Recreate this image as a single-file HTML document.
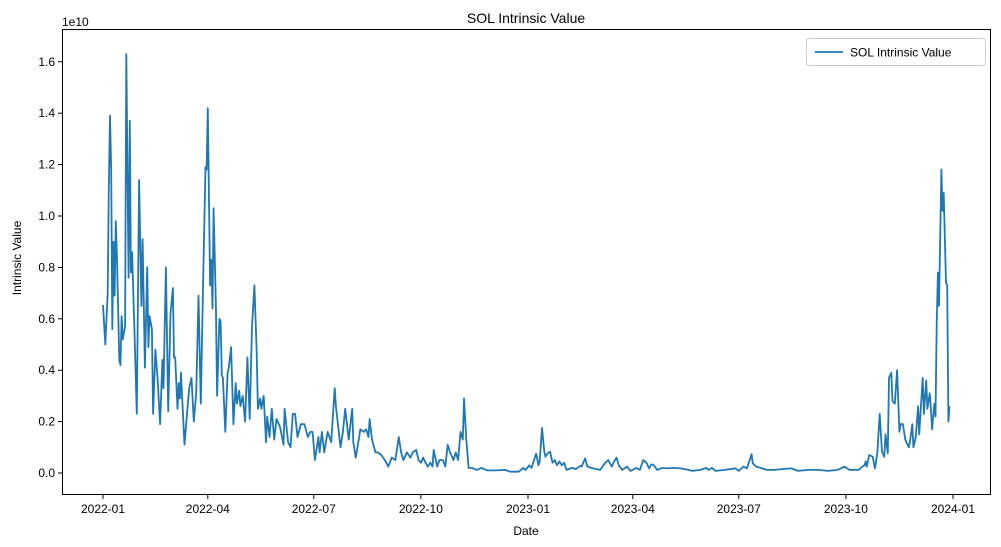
<!DOCTYPE html>
<html><head><meta charset="utf-8"><style>
html,body{margin:0;padding:0;background:#fff;}
svg{display:block;font-family:"Liberation Sans","DejaVu Sans",sans-serif;}
</style></head><body>
<svg id="chart" width="1001" height="547" viewBox="0 0 1001 547">
<text x="526" y="23" text-anchor="middle" font-size="14">SOL Intrinsic Value</text>
<text x="526" y="535" text-anchor="middle" font-size="12">Date</text>
<text x="21" y="258" text-anchor="middle" font-size="12" transform="rotate(-90 21 258)">Intrinsic Value</text>
<text x="62" y="26" font-size="12">1e10</text>
<g id="grid"></g>
<path id="line" fill="none" stroke="#1f77b4" stroke-width="1.8" stroke-linejoin="round"></path>
<rect x="62.5" y="29.5" width="928" height="465" fill="none" stroke="#000" stroke-width="1"></rect>
<g>
<rect x="806.5" y="38.5" width="179" height="27" rx="3" fill="#fff" stroke="#ccc"></rect>
<line x1="815" y1="52" x2="843" y2="52" stroke="#1f77b4" stroke-width="1.8"></line>
<text x="850" y="56.5" font-size="12">SOL Intrinsic Value</text>
</g>
</svg>
<script>
const days=[0,2,4,5,6,7,8,9,10,11,12,14,15,16,17,19,20,22,23,24,25,27,29,31,33,34,36,38,39,40,42,43,45,47,49,51,52,54,56,58,60,61,62,64,65,66,67,68,70,72,74,76,78,80,82,84,86,88,89,90,92,93,94,95,97,98,100,101,102,103,105,107,108,110,112,114,115,117,118,120,122,124,126,128,130,132,133,135,136,138,140,141,143,145,147,149,152,155,156,159,161,163,165,167,170,173,176,178,180,182,185,186,188,190,193,196,199,200,204,206,208,209,211,214,215,217,220,221,224,226,228,229,231,234,236,239,242,245,248,251,254,256,258,261,264,266,269,271,273,275,277,279,281,283,284,287,289,292,294,296,298,301,303,305,307,309,310,312,314,317,321,325,330,338,345,350,357,361,363,366,368,372,374,375,377,379,380,382,384,386,388,390,392,394,396,398,403,406,410,411,414,416,421,427,431,434,437,439,441,443,446,450,453,458,461,464,467,469,471,473,476,480,484,490,496,503,506,513,518,520,523,526,534,543,546,550,553,557,558,561,566,570,577,583,591,597,606,614,623,631,637,641,649,652,654,655,656,658,661,663,665,667,669,671,672,674,675,677,678,680,682,684,685,687,689,692,693,695,696,698,700,701,704,705,707,708,710,711,712,714,715,716,717,718,720,721,722,724,725,726,727];
const values=[0.654,0.50,0.70,1.11,1.39,1.18,0.56,0.90,0.69,0.98,0.83,0.44,0.42,0.61,0.52,0.57,1.63,0.76,1.37,0.78,0.86,0.56,0.23,1.14,0.65,0.91,0.41,0.80,0.49,0.61,0.56,0.23,0.48,0.36,0.19,0.44,0.33,0.80,0.24,0.62,0.72,0.45,0.45,0.25,0.35,0.29,0.39,0.29,0.11,0.22,0.33,0.37,0.20,0.31,0.69,0.27,0.74,1.19,1.18,1.42,0.73,0.83,0.64,1.03,0.65,0.30,0.60,0.59,0.38,0.37,0.16,0.39,0.41,0.49,0.19,0.35,0.27,0.32,0.26,0.30,0.20,0.45,0.21,0.57,0.73,0.47,0.25,0.29,0.25,0.30,0.12,0.22,0.14,0.25,0.13,0.21,0.18,0.11,0.25,0.12,0.10,0.23,0.23,0.14,0.19,0.19,0.14,0.16,0.16,0.05,0.14,0.08,0.16,0.08,0.16,0.12,0.33,0.26,0.10,0.16,0.25,0.21,0.13,0.25,0.12,0.06,0.14,0.17,0.16,0.17,0.14,0.21,0.13,0.08,0.08,0.07,0.05,0.025,0.06,0.05,0.14,0.08,0.05,0.08,0.06,0.08,0.09,0.05,0.04,0.06,0.04,0.025,0.04,0.025,0.09,0.025,0.05,0.05,0.025,0.11,0.08,0.05,0.08,0.05,0.16,0.13,0.29,0.13,0.02,0.02,0.012,0.02,0.01,0.01,0.012,0.005,0.005,0.02,0.012,0.03,0.02,0.075,0.03,0.045,0.175,0.083,0.063,0.077,0.083,0.04,0.05,0.03,0.045,0.03,0.04,0.012,0.02,0.015,0.028,0.025,0.057,0.025,0.018,0.012,0.038,0.05,0.025,0.045,0.06,0.03,0.012,0.025,0.008,0.02,0.012,0.05,0.038,0.018,0.034,0.03,0.012,0.02,0.018,0.02,0.018,0.012,0.008,0.012,0.02,0.012,0.02,0.008,0.012,0.018,0.008,0.025,0.018,0.073,0.038,0.025,0.018,0.012,0.012,0.015,0.018,0.008,0.012,0.012,0.008,0.012,0.025,0.012,0.012,0.025,0.03,0.045,0.025,0.07,0.063,0.018,0.077,0.23,0.083,0.063,0.15,0.077,0.37,0.39,0.28,0.27,0.40,0.16,0.19,0.19,0.13,0.10,0.12,0.19,0.10,0.14,0.26,0.15,0.37,0.23,0.36,0.25,0.31,0.25,0.17,0.27,0.22,0.58,0.78,0.65,1.18,1.02,1.09,0.74,0.73,0.20,0.26];
const xTickDays=[0,90,181,273,365,455,546,638,730];
const xTickLabels=["2022-01","2022-04","2022-07","2022-10","2023-01","2023-04","2023-07","2023-10","2024-01"];
const yTickValues=[0,0.2,0.4,0.6,0.8,1.0,1.2,1.4,1.6];
const yTickLabels=["0.0","0.2","0.4","0.6","0.8","1.0","1.2","1.4","1.6"];

const NS="http://www.w3.org/2000/svg";
function xScale(d){return 103+d*1.1644;}
function yScale(v){return 473-v*257;}
const g=document.getElementById('grid');
function mk(tag,attrs){const e=document.createElementNS(NS,tag);for(const k in attrs)e.setAttribute(k,attrs[k]);return e;}
xTickDays.forEach((d,i)=>{
  const x=xScale(d);
  const t=mk('line',{x1:x,y1:494.5,x2:x,y2:499,stroke:'#000'});
  
  
  g.appendChild(t);
  const l=mk('text',{x:x,y:513,'text-anchor':'middle','font-size':12});
  
  
  l.textContent=xTickLabels[i];g.appendChild(l);
});
yTickValues.forEach((v,i)=>{
  const y=yScale(v);
  const t=mk('line',{x1:58,y1:y,x2:62.5,y2:y,stroke:'#000'});
  
  
  g.appendChild(t);
  const l=mk('text',{x:55,y:y+4,'text-anchor':'end','font-size':12});
  
  
  l.textContent=yTickLabels[i];g.appendChild(l);
});
let d='';
days.forEach((dd,i)=>{d+=(i?'L':'M')+xScale(dd).toFixed(1)+','+yScale(values[i]).toFixed(1);});
document.getElementById('line').setAttribute('d',d);
</script>
</body></html>
